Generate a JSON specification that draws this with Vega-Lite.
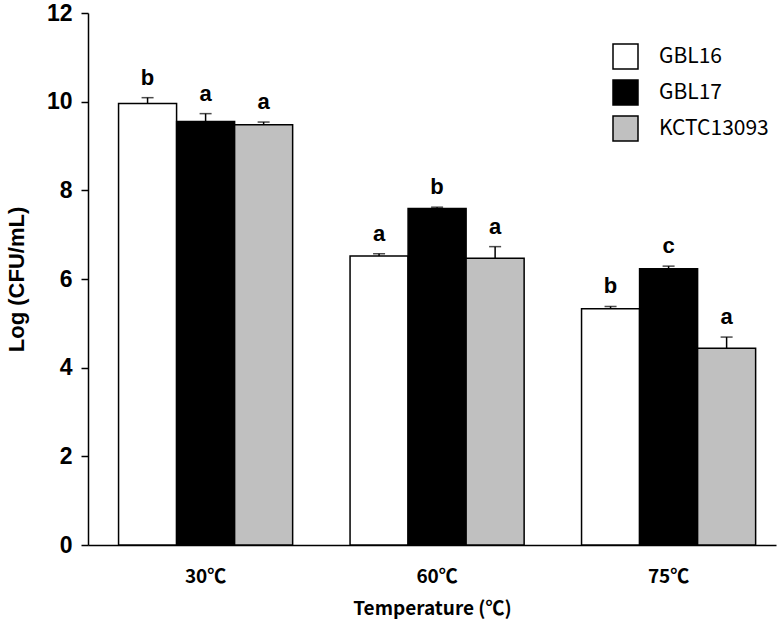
{
  "$schema": "https://vega.github.io/schema/vega-lite/v6.json",
  "width": 688,
  "height": 532,
  "autosize": {"type": "none"},
  "padding": {"left": 88, "top": 13, "right": 4, "bottom": 86},
  "background": "white",
  "config": {
    "view": {"stroke": null},
    "axis": {"grid": false, "domainColor": "black", "tickColor": "black", "labelColor": "black", "titleColor": "black", "domainWidth": 1.5, "tickWidth": 1.5},
    "legend": {"symbolSize": 625}
  },
  "data": {
    "values": [
      {"temp": "30℃", "strain": "GBL16", "mean": 9.96, "upper": 10.09, "letter": "b"},
      {"temp": "30℃", "strain": "GBL17", "mean": 9.55, "upper": 9.73, "letter": "a"},
      {"temp": "30℃", "strain": "KCTC13093", "mean": 9.48, "upper": 9.54, "letter": "a"},
      {"temp": "60℃", "strain": "GBL16", "mean": 6.52, "upper": 6.57, "letter": "a"},
      {"temp": "60℃", "strain": "GBL17", "mean": 7.59, "upper": 7.62, "letter": "b"},
      {"temp": "60℃", "strain": "KCTC13093", "mean": 6.47, "upper": 6.73, "letter": "a"},
      {"temp": "75℃", "strain": "GBL16", "mean": 5.33, "upper": 5.38, "letter": "b"},
      {"temp": "75℃", "strain": "GBL17", "mean": 6.23, "upper": 6.29, "letter": "c"},
      {"temp": "75℃", "strain": "KCTC13093", "mean": 4.44, "upper": 4.69, "letter": "a"}
    ]
  },
  "encoding": {
    "x": {
      "field": "temp", "type": "nominal", "sort": ["30℃", "60℃", "75℃"],
      "scale": {"paddingInner": 0.248, "paddingOuter": 0.11, "align": 0.6},
      "axis": {"title": "Temperature (℃)", "labelAngle": 0, "ticks": false, "labelPadding": 22, "labelFont": "Noto Sans CJK KR", "labelFontWeight": "bold", "labelFontSize": 19, "titleFont": "Noto Sans CJK KR", "titleFontWeight": "bold", "titleFontSize": 19, "titlePadding": 13}
    },
    "xOffset": {"field": "strain", "type": "nominal", "sort": ["GBL16", "GBL17", "KCTC13093"], "scale": {"paddingInner": 0, "paddingOuter": 0}},
    "y": {
      "field": "mean", "type": "quantitative", "scale": {"domain": [0, 12]},
      "axis": {"title": "Log (CFU/mL)", "values": [0, 2, 4, 6, 8, 10, 12], "tickSize": 7, "labelPadding": 9, "labelFont": "Liberation Sans", "labelFontWeight": "bold", "labelFontSize": 23, "titleFont": "Liberation Sans", "titleFontWeight": "bold", "titleFontSize": 22, "titlePadding": 18}
    }
  },
  "layer": [
    {
      "mark": {"type": "rule", "stroke": "black", "strokeWidth": 1.5},
      "encoding": {"y2": {"field": "upper"}}
    },
    {
      "mark": {"type": "bar", "stroke": "black", "strokeWidth": 1.5},
      "encoding": {
        "fill": {
          "field": "strain", "type": "nominal",
          "scale": {"domain": ["GBL16", "GBL17", "KCTC13093"], "range": ["white", "black", "#c0c0c0"]},
          "legend": {
            "title": null, "orient": "none", "legendX": 524, "legendY": 30, "padding": 0,
            "symbolType": "square", "symbolSize": 625,
            "symbolStrokeColor": "black", "symbolStrokeWidth": 1.5, "symbolOpacity": 1,
            "labelFont": "Noto Sans CJK KR", "labelFontSize": 21, "labelColor": "black",
            "labelOffset": 20, "rowPadding": 5
          }
        }
      }
    },
    {
      "mark": {"type": "tick", "orient": "horizontal", "size": 12, "thickness": 1.5, "color": "black"},
      "encoding": {"y": {"field": "upper", "type": "quantitative"}}
    },
    {
      "mark": {"type": "text", "dy": -13, "baseline": "alphabetic", "font": "Liberation Sans", "fontWeight": "bold", "fontSize": 22, "color": "black"},
      "encoding": {"y": {"field": "upper", "type": "quantitative"}, "text": {"field": "letter"}}
    }
  ]
}
